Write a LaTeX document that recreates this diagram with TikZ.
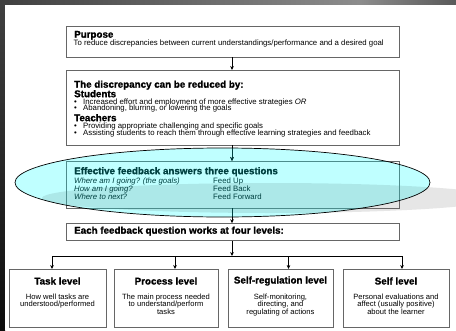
\documentclass[tikz,border=0pt]{standalone}
\usepackage{fontspec}
\setmainfont{Liberation Sans}
\newfontfamily\bodyfont{Liberation Sans}
\newfontfamily\ttlfont{Liberation Sans Bold}[FakeBold=1.2]
\usetikzlibrary{shapes.geometric,arrows.meta}
\definecolor{hlfill}{RGB}{191,255,255}
\definecolor{hlshadow}{RGB}{172,232,232}
\definecolor{hltext}{RGB}{0,64,64}
\definecolor{hlborder}{RGB}{77,140,140}
\definecolor{shadowgray}{RGB}{230,230,230}
\begin{document}
\begin{tikzpicture}[x=1pt,y=-1pt,
  box/.style={draw=black!60,line width=0.7pt,inner sep=0pt,outer sep=0pt},
  ttl/.style={anchor=west,inner sep=0pt,text height=7pt,text depth=0.6pt,font=\fontsize{9.8}{10}\ttlfont},
  txt/.style={anchor=west,inner sep=0pt,text height=5.2pt,text depth=1.2pt,font=\fontsize{7.8}{8}\bodyfont},
  ctl/.style={anchor=center,inner sep=0pt,font=\fontsize{9.8}{10}\ttlfont},
  ctx/.style={anchor=north,inner sep=0pt,align=center,font=\fontsize{7.6}{7.7}\bodyfont},
  arr/.style={draw=black,line width=0.7pt,-{Stealth[length=4pt,width=3.6pt]}},
  ln/.style={draw=black,line width=0.7pt}]
\useasboundingbox (0,0) rectangle (456,330);
% slide background
\fill[black!88] (0,0) rectangle (456,330);
\shade[left color=black!75,right color=black!45] (0,0) rectangle (360,5);
\shade[left color=black!45,right color=black!65] (360,0) rectangle (456,5);
\shade[top color=black!75,bottom color=black!95] (0,5) rectangle (5,330);
\fill[white] (5,5) rectangle (456,330);
% shadow and highlight fill
\fill[shadowgray] (270,198) ellipse [x radius=228,y radius=15];
\begin{scope}
  \clip (222.5,182.5) ellipse [x radius=207.5,y radius=34.5];
  \fill[hlfill] (222.5,182.5) ellipse [x radius=207.5,y radius=34.5];
  \fill[hlshadow] (270,198) ellipse [x radius=228,y radius=15];
\end{scope}
% boxes
\node[box,minimum width=333pt,minimum height=31pt] (purpose) at (232.5,41.5) {};
\node[box,minimum width=333pt,minimum height=75pt] (disc) at (232.5,107.5) {};
\node[box,minimum width=333pt,minimum height=47pt] (fb) at (232.5,184.5) {};
\node[box,minimum width=333pt,minimum height=17.5pt] (each) at (232.5,232) {};
\node[box,minimum width=97pt,minimum height=58pt] (task) at (57.5,298) {};
\node[box,minimum width=104pt,minimum height=58pt] (proc) at (166,298) {};
\node[box,minimum width=105pt,minimum height=58pt] (selfreg) at (280.5,298) {};
\node[box,minimum width=106pt,minimum height=58pt] (self) at (396,298) {};
% texts
\node[ttl] (t1) at (74,34.5) {Purpose};
\node[txt] (t2) at (73.5,43.5) {To reduce discrepancies between current understandings/performance and a desired goal};
\node[ttl] (t3) at (74,84.5) {The discrepancy can be reduced by:};
\node[ttl] (t4) at (74,94) {Students};
\node[txt] (b1) at (74,102) {•};
\node[txt] (b1t) at (83,102) {Increased effort and employment of more effective strategies \textit{OR}};
\node[txt] (b2) at (74,108.4) {•};
\node[txt] (b2t) at (83,108.4) {Abandoning, blurring, or lowering the goals};
\node[ttl] (t5) at (74,118) {Teachers};
\node[txt] (b3) at (74,126.6) {•};
\node[txt] (b3t) at (83,126.6) {Providing appropriate challenging and specific goals};
\node[txt] (b4) at (74,133) {•};
\node[txt] (b4t) at (83,133) {Assisting students to reach them through effective learning strategies and feedback};
\node[ttl,text=hltext] (t6) at (74,171) {Effective feedback answers three questions};
\node[txt,text=hltext] (q1) at (74,181) {\itshape Where am I going? (the goals)};
\node[txt,text=hltext] (q2) at (74,189) {\itshape How am I going?};
\node[txt,text=hltext] (q3) at (74,197) {\itshape Where to next?};
\node[txt,text=hltext] (f1) at (213,181) {Feed Up};
\node[txt,text=hltext] (f2) at (213,189) {Feed Back};
\node[txt,text=hltext] (f3) at (213,197) {Feed Forward};
\node[ttl] (t7) at (74,230.5) {Each feedback question works at four levels:};
\node[ctl] (h1) at (57.5,281) {Task level};
\node[ctx] (c1) at (57.5,293.5) {How well tasks are\\understood/performed};
\node[ctl] (h2) at (166,281) {Process level};
\node[ctx] (c2) at (166,293.5) {The main process needed\\to understand/perform\\tasks};
\node[ctl] (h3) at (280.5,281) {Self-regulation level};
\node[ctx] (c3) at (280.5,293.5) {Self-monitoring,\\directing, and\\regulating of actions};
\node[ctl] (h4) at (396,281) {Self level};
\node[ctx] (c4) at (396,293.5) {Personal evaluations and\\affect (usually positive)\\about the learner};
% connectors
\coordinate (hub) at (232,256);
\coordinate (a1) at (52,256);
\coordinate (a2) at (175,256);
\coordinate (a3) at (288.5,256);
\coordinate (a4) at (402,256);
\draw[arr] (purpose.south -| hub) -- (disc.north -| hub);
\draw[arr] (disc.south -| hub) -- (fb.north -| hub);
\draw[arr] (fb.south -| hub) -- (each.north -| hub);
\draw[arr] (each.south -| hub) -- (hub);
\draw[ln] (a1) -- (a4);
\draw[arr] (a1) -- (a1 |- task.north);
\draw[arr] (a2) -- (a2 |- proc.north);
\draw[arr] (a3) -- (a3 |- selfreg.north);
\draw[arr] (a4) -- (a4 |- self.north);
% tinted parts under the highlight
\begin{scope}
  \clip (222.5,182.5) ellipse [x radius=207.5,y radius=34.5];
  \draw[hlborder,line width=0.7pt] (fb.north west) rectangle (fb.south east);
  \draw[arr,draw=hltext,fill=hltext] (disc.south -| hub) -- (fb.north -| hub);
  \draw[arr,draw=hltext,fill=hltext] (fb.south -| hub) -- (each.north -| hub);
\end{scope}
% highlight ellipse outline
\node[ellipse,draw=black,line width=0.7pt,minimum width=415pt,minimum height=69pt,inner sep=0pt] (ell) at (222.5,182.5) {};
\end{tikzpicture}
\end{document}
